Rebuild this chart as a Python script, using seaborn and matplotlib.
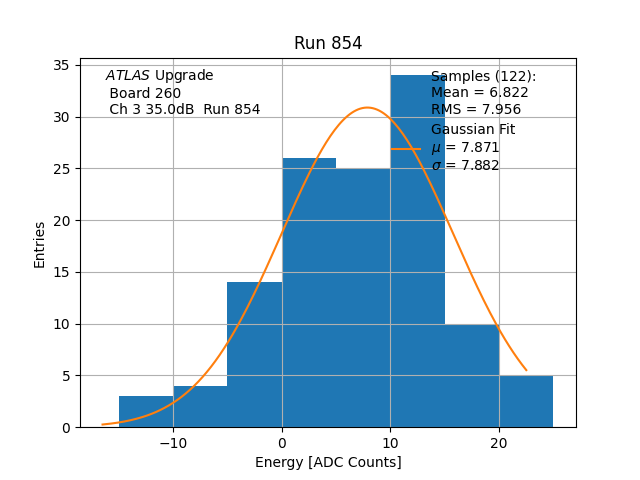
import matplotlib
matplotlib.use("Agg")
import matplotlib.pyplot as plt
from matplotlib.lines import Line2D
import numpy as np
import seaborn as sns

# histogram (bin width 5)
bin_edges = [-15, -10, -5, 0, 5, 10, 15, 20, 25]
bin_counts = [3, 4, 14, 26, 25, 34, 10, 5]
n_samples = 122
mean_val = 6.822
rms_val = 7.956
fit_mu = 7.871
fit_sigma = 7.882
fit_range = (-16.5, 22.5)

bin_centers = [(a + b) / 2 for a, b in zip(bin_edges[:-1], bin_edges[1:])]

fig, ax = plt.subplots(figsize=(6.4, 4.8), dpi=100)

sns.histplot(x=bin_centers, weights=bin_counts, bins=bin_edges, ax=ax,
             color='#1f77b4', alpha=1.0, linewidth=0, edgecolor='none')

# gaussian fit curve scaled to the histogram
xs = np.linspace(fit_range[0], fit_range[1], 200)
width = bin_edges[1] - bin_edges[0]
amp = n_samples * width / (fit_sigma * np.sqrt(2 * np.pi))
ys = amp * np.exp(-0.5 * ((xs - fit_mu) / fit_sigma) ** 2)
sns.lineplot(x=xs, y=ys, ax=ax, color='#ff7f0e')

ax.grid(True)
ax.set_title("Run 854")
ax.set_xlabel("Energy [ADC Counts]")
ax.set_ylabel("Entries")

ax.text(0.05, 0.975, "$\\it{ATLAS}$ Upgrade\n Board 260\n Ch 3 35.0dB  Run 854",
        transform=ax.transAxes, va='top', ha='left')

handles = [Line2D([], [], linestyle='none'),
           Line2D([], [], color='#ff7f0e')]
labels = [f"Samples ({n_samples}):\nMean = {mean_val:.3f}\nRMS = {rms_val:.3f}",
          f"Gaussian Fit\n$\\mu$ = {fit_mu:.3f}\n$\\sigma$ = {fit_sigma:.3f}"]
ax.legend(handles, labels, loc='upper right', bbox_to_anchor=(0.946, 1.0),
          frameon=False)

plt.savefig("out.png")
